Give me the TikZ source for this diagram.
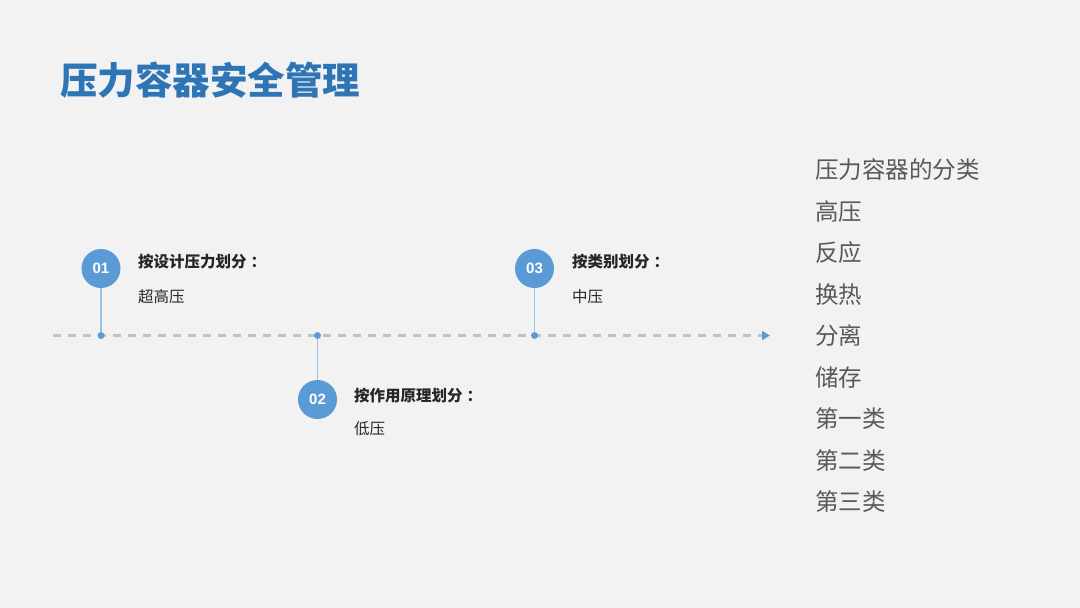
\documentclass[tikz,border=0pt]{standalone}
\usepackage{fontspec}
\setmainfont{Noto Sans CJK SC}
\newfontfamily\cjk{Noto Sans CJK SC}
\newfontfamily\numfont{Liberation Sans}
\usetikzlibrary{arrows.meta}
\definecolor{PageGray}{HTML}{F2F2F2}
\definecolor{TitleBlue}{HTML}{2E75B6}
\definecolor{BadgeBlue}{HTML}{5B9BD5}
\definecolor{StemBlue}{HTML}{9DC3E6}
\definecolor{DashGray}{HTML}{BFC2C6}
\definecolor{ListGray}{HTML}{595959}
\definecolor{LabelInk}{HTML}{262626}

\begin{document}
\begin{tikzpicture}[x=1pt,y=-1pt,
  title/.style={font=\cjk\bfseries\fontsize{37.5}{40}\selectfont,text=TitleBlue,anchor=west,inner sep=0pt},
  badge/.style={circle,fill=BadgeBlue,minimum size=39pt,inner sep=0pt,text=white,font=\numfont\bfseries\fontsize{15}{17}\selectfont},
  knot/.style={circle,fill=BadgeBlue,minimum size=7pt,inner sep=0pt},
  stem/.style={draw=StemBlue,line width=1.2pt},
  axis/.style={draw=DashGray,line width=2.2pt,dash pattern=on 8pt off 7pt,-{Triangle[length=8pt,width=9pt,color=BadgeBlue]}},
  head/.style={font=\cjk\bfseries\fontsize{15.5}{18}\selectfont,text=LabelInk,anchor=west,inner sep=0pt},
  sub/.style={font=\cjk\fontsize{15.5}{18}\selectfont,text=LabelInk,anchor=west,inner sep=0pt},
  item/.style={font=\cjk\fontsize{23.5}{26}\selectfont,text=ListGray,anchor=west,inner sep=0pt}
]
\useasboundingbox (0,0) rectangle (1080,608);
\fill[PageGray] (0,0) rectangle (1080,608);

\node[title] (title) at (60,80) {压力容器安全管理};

% timeline
\coordinate (axisL) at (53,335.5);
\coordinate (axisR) at (770,335.5);
\draw[axis] (axisL) -- (axisR);

\node[knot] (k1) at (101,335.5) {};
\node[knot] (k2) at (317.5,335.5) {};
\node[knot] (k3) at (534.5,335.5) {};
\node[badge] (b1) at (101,268.5) {01};
\node[badge] (b2) at (317.5,399.5) {02};
\node[badge] (b3) at (534.5,268.5) {03};
\draw[stem] (b1) -- (k1);
\draw[stem] (b2) -- (k2);
\draw[stem] (b3) -- (k3);

\node[head] (h1) at (138,262) {按设计压力划分\hspace{4pt}：};
\node[sub] (s1) at (138,296.5) {超高压};
\node[head] (h2) at (354,395.5) {按作用原理划分\hspace{4pt}：};
\node[sub] (s2) at (354,429) {低压};
\node[head] (h3) at (572,262) {按类别划分\hspace{4pt}：};
\node[sub] (s3) at (572,296.5) {中压};

% classification list
\foreach \txt [count=\i from 0] in {压力容器的分类,高压,反应,换热,分离,储存,第一类,第二类,第三类}
  \node[item] (l\i) at (815,{170+41.5*\i}) {\txt};
\end{tikzpicture}
\end{document}
